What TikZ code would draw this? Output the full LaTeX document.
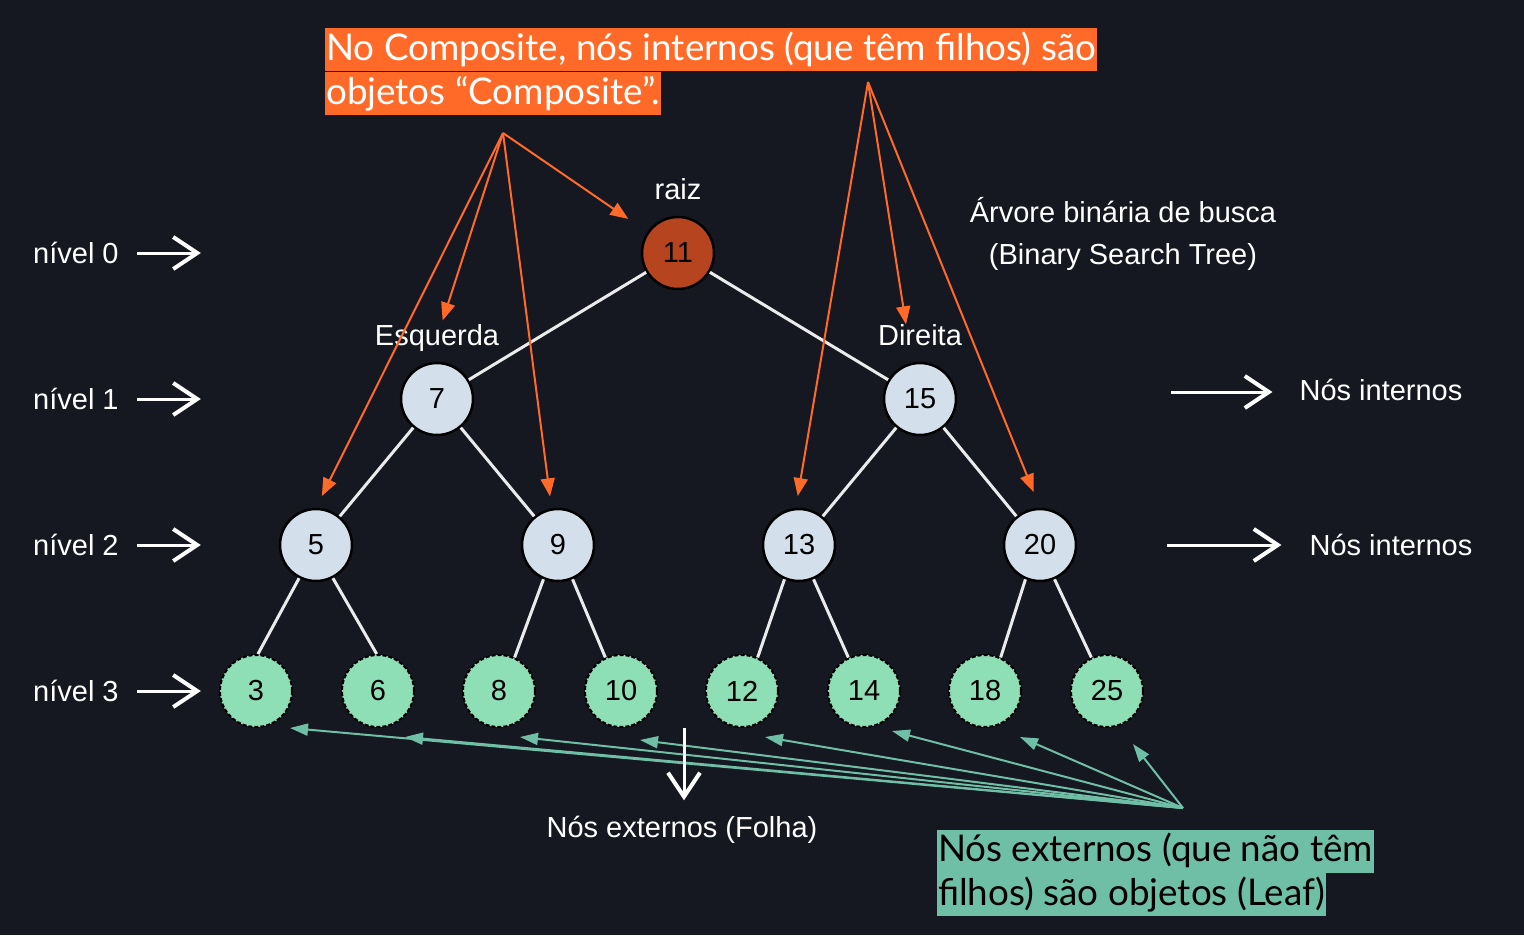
\documentclass[tikz,border=0pt]{standalone}
\usepackage{fontspec}
\setmainfont{Liberation Sans}
\newfontfamily\latofont{Lato}
\usetikzlibrary{arrows.meta,positioning,shapes}

\definecolor{bgdark}{RGB}{22,24,33}
\definecolor{compcol}{RGB}{255,106,40}
\definecolor{leafcol}{RGB}{142,223,182}
\definecolor{leafbox}{RGB}{111,191,166}
\definecolor{innercol}{RGB}{211,224,236}
\definecolor{rootcol}{RGB}{181,68,31}

\tikzset{
  txt/.style={text=white,font=\fontsize{29}{35}\selectfont,inner sep=0pt,text height=21pt,text depth=6pt},
  midnode/.style={circle,draw=black,line width=2.5pt,fill=innercol,minimum size=72pt,inner sep=0pt,font=\fontsize{29}{34}\selectfont},
  rootnode/.style={midnode,fill=rootcol},
  leaf/.style={midnode,fill=leafcol,line width=2pt,dash pattern=on 4pt off 2pt},
  branch/.style={draw=white!92!black,line width=3pt},
  levelarrow/.style={white,line width=3pt,-{Straight Barb[length=24pt,width=32pt,line width=4pt]}},
  comparrow/.style={compcol,line width=2pt,-{Triangle[length=18pt,width=14pt]}},
  leafarrow/.style={leafbox,line width=2pt,-{Triangle[length=18pt,width=12pt]}},
  compline/.style={fill=compcol,text=white,anchor=west,inner xsep=1pt,inner ysep=2pt,text height=30pt,text depth=9pt,font=\latofont\fontsize{36.8}{44}\selectfont},
  leafline/.style={compline,fill=leafbox,text=black},
}

\begin{document}
\begin{tikzpicture}[x=1pt,y=-1pt]
\fill[bgdark] (0,0) rectangle (1524,935);

% tree
\node[rootnode] (n11) at (678,253) {11};
\node[midnode] (n7) at (437,399) {7};
\node[midnode] (n15) at (920,399) {15};
\node[midnode] (n5) at (316,545) {5};
\node[midnode] (n9) at (558,545) {9};
\node[midnode] (n13) at (799,545) {13};
\node[midnode] (n20) at (1040,545) {20};
\foreach \x/\v in {256/3,378/6,499/8,621/10,742/12,864/14,985/18,1107/25}
  \node[leaf] (l\v) at (\x,691) {\v};

\draw[branch] (n11) -- (n7);
\draw[branch] (n11) -- (n15);
\draw[branch] (n7) -- (n5);
\draw[branch] (n7) -- (n9);
\draw[branch] (n15) -- (n13);
\draw[branch] (n15) -- (n20);
\draw[branch] (n5.243) -- (l3.87);
\draw[branch] (n5.297) -- (l6.92);
\draw[branch] (n9.247) -- (l8.65);
\draw[branch] (n9.293) -- (l10.115);
\draw[branch] (n13.247) -- (l12.65);
\draw[branch] (n13.293) -- (l14.115);
\draw[branch] (n20.247) -- (l18.65);
\draw[branch] (n20.293) -- (l25.115);

\node[txt,above=10pt of n11] (raiz) {raiz};
\node[txt,above=10pt of n7] (esq) {Esquerda};
\node[txt,above=10pt of n15] (dir) {Direita};

% levels
\foreach \i/\y in {0/253,1/399,2/545,3/691}{
  \node[txt,anchor=west] (lv\i) at (33,\y+3) {nível \i};
  \draw[levelarrow] ([xshift=18pt,yshift=3pt]lv\i.east) -- ++(64,0);
}

\node[txt] (title1) at (1123,215) {Árvore binária de busca};
\node[txt] (title2) at (1123,257) {(Binary Search Tree)};

\node[txt] (int1) at (1381,393) {Nós internos};
\node[txt] (int2) at (1391,548) {Nós internos};
\draw[levelarrow] ([xshift=-128pt,yshift=1pt]int1.west) -- ([xshift=-27pt,yshift=1pt]int1.west);
\draw[levelarrow] ([xshift=-142pt,yshift=3pt]int2.west) -- ([xshift=-28pt,yshift=3pt]int2.west);

% leaf notes
\coordinate (leafsrc) at (1183,808);
\foreach \v/\dx/\dy in {3/34/37,6/27/46,8/21/46,10/19/49,12/23/46,14/28/40,18/35/46,25/26/53}
  \draw[leafarrow] (leafsrc) -- ([xshift=\dx pt,yshift=-\dy pt]l\v.center);

\node[txt] (ext) at (682,830) {Nós externos (Folha)};
\draw[levelarrow] ([xshift=2pt,yshift=88pt]ext.north) -- ([xshift=2pt,yshift=16pt]ext.north);

\node[leafline] (leafnote1) at (937,851) {Nós externos (que não têm};
\node[leafline] (leafnote2) at (937,894.5) {filhos) são objetos (Leaf)};

% composite notes
\node[compline] (note1) at (325,49.5) {No Composite, nós internos (que têm filhos) são};
\node[compline] (note2) at (325,93.5) {objetos “Composite”.};

\coordinate (compA) at (503,133);
\coordinate (compB) at (868,82);
\draw[comparrow,shorten >=23pt] (compA) -- (n11);
\draw[comparrow,shorten >=4pt] (compA) -- (esq);
\draw[comparrow,shorten >=13pt] (compA) -- (n5.north);
\draw[comparrow,shorten >=12pt] (compA) -- (n9.100);
\draw[comparrow,shorten >=12pt] (compB) -- (n13.95);
\draw[comparrow] (compB) -- ([xshift=-14pt]dir.north);
\draw[comparrow,shorten >=17pt] (compB) -- (n20.north);
\end{tikzpicture}
\end{document}
